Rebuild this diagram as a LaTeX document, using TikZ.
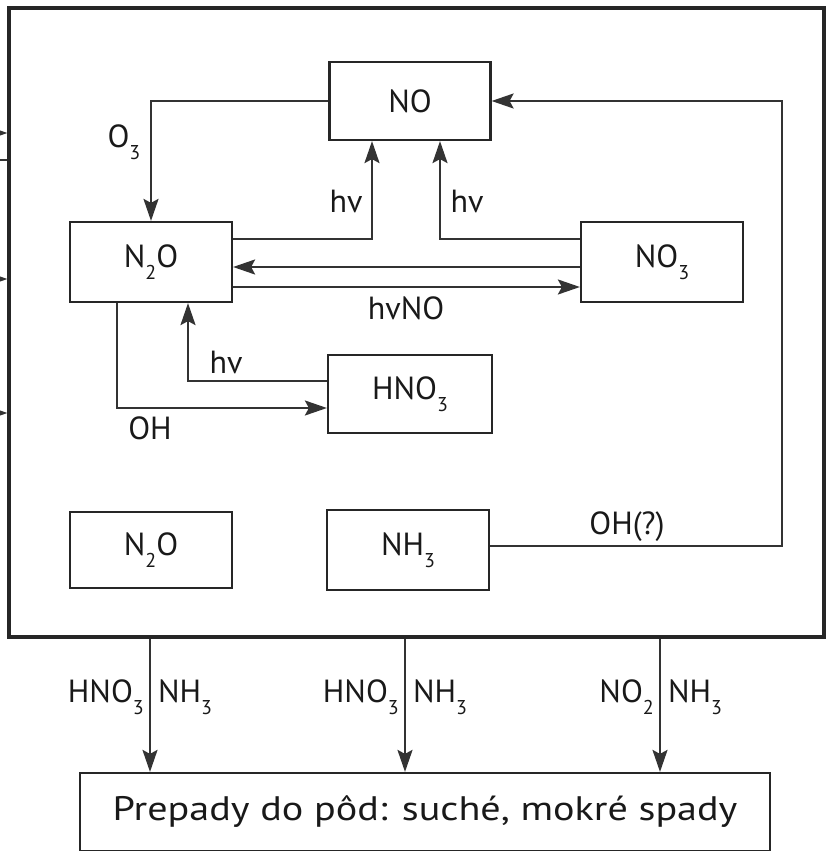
\documentclass[tikz,border=0pt]{standalone}
\usepackage{fontspec}
\setmainfont{PT Sans}
\usetikzlibrary{arrows.meta}
\newcommand{\chs}[1]{\raisebox{-0.36em}{\fontsize{20}{20}\selectfont #1}}
\begin{document}
\begin{tikzpicture}[x=1pt,y=-1pt,
  txt/.style={font=\fontsize{32}{36}\selectfont, text=black!90},
  box/.style={draw=black!85, line width=2.2pt, txt, inner sep=0pt},
  frm/.style={draw=black!85, line width=3.2pt, inner sep=0pt},
  lbl/.style={txt, inner sep=0pt},
  arr/.style={draw=black!80, line width=2.2pt, -{Stealth[length=22pt,width=15pt,inset=4pt]}},
  ln/.style={draw=black!80, line width=2.2pt}]
\useasboundingbox (0,0) rectangle (826,851);
% outer frame
\node[frm, minimum width=815, minimum height=629] (frame) at (416.5,322.5) {};
% boxes
\node[box, minimum width=161, minimum height=78] (no) at (410,101) {NO};
\node[box, minimum width=162, minimum height=80] (n2o) at (151,262) {N\chs{2}O};
\node[box, minimum width=162, minimum height=80] (no3) at (662,262) {NO\chs{3}};
\node[box, minimum width=164, minimum height=78] (hno3) at (410,394) {HNO\chs{3}};
\node[box, minimum width=162, minimum height=76] (n2ob) at (151,550) {N\chs{2}O};
\node[box, minimum width=162, minimum height=80] (nh3) at (408,550) {NH\chs{3}};
\node[box, minimum width=690, minimum height=78] (bot) at (425,812) {\fontsize{34}{38}\selectfont\scalebox{1.18}[1]{Prepady do pôd: suché, mokré spady}};
% connectors inside
\draw[arr] (no.west) -| (n2o.north);
\draw[arr] ([yshift=-18pt]n2o.north east) -| ([xshift=-38pt]no.south);
\draw[arr] ([yshift=-18pt]no3.north west) -| ([xshift=30pt]no.south);
\draw[arr] ([yshift=-5pt]no3.west) -- ([yshift=-5pt]n2o.east);
\draw[arr] ([yshift=-25pt]n2o.east) -- ([yshift=-25pt]no3.west);
\draw[arr] ([yshift=13pt]hno3.west) -| ([xshift=37pt]n2o.south);
\draw[arr] ([xshift=-34pt]n2o.south) |- ([yshift=-14pt]hno3.west);
\draw[arr] ([yshift=4pt]nh3.east) -| ([xshift=290pt]no.east) -- (no.east);
% labels
\node[lbl] (lo3) at (124,142) {O\chs{3}};
\node[lbl] (lhv1) at (346,201) {hv};
\node[lbl] (lhv2) at (467,201) {hv};
\node[lbl] (lhvno) at (406,308) {hvNO};
\node[lbl] (lhv3) at (226,362) {hv};
\node[lbl] (loh) at (150,428) {OH};
\node[lbl] (loh2) at (627,527) {OH(?)};
% arrows out to deposition
\draw[arr] ([xshift=-275pt]bot.north |- frame.south) -- ([xshift=-275pt]bot.north);
\draw[arr] ([xshift=-20pt]bot.north |- frame.south) -- ([xshift=-20pt]bot.north);
\draw[arr] ([xshift=235pt]bot.north |- frame.south) -- ([xshift=235pt]bot.north);
\node[lbl, anchor=east] (b1a) at (144,697) {HNO\chs{3}};
\node[lbl, anchor=west] (b1b) at (158,697) {NH\chs{3}};
\node[lbl, anchor=east] (b2a) at (399,697) {HNO\chs{3}};
\node[lbl, anchor=west] (b2b) at (413,697) {NH\chs{3}};
\node[lbl, anchor=east] (b3a) at (654,697) {NO\chs{2}};
\node[lbl, anchor=west] (b3b) at (668,697) {NH\chs{3}};
% arrows entering from the left
\coordinate (l1) at (0,133);
\coordinate (l2) at (0,160);
\coordinate (l3) at (0,279);
\coordinate (l4) at (0,413);
\draw[arr] (l1) -- (l1 -| frame.west);
\draw[ln] (l2) -- (l2 -| frame.west);
\draw[arr] (l3) -- (l3 -| frame.west);
\draw[arr] (l4) -- (l4 -| frame.west);
\end{tikzpicture}
\end{document}
